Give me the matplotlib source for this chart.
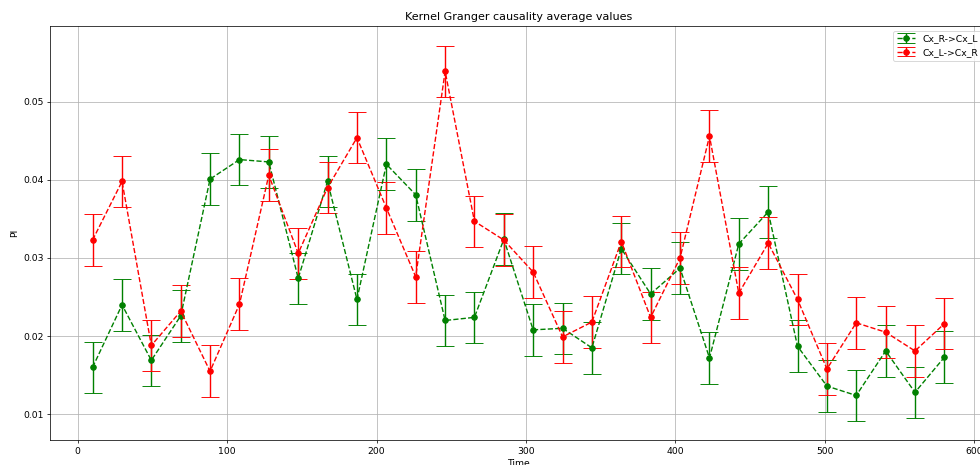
import matplotlib
matplotlib.use("Agg")
import matplotlib.pyplot as plt

# Time points of the sliding windows
time = [10.0, 29.7, 49.3, 69.0, 88.6, 108.3, 127.9, 147.6, 167.2, 186.9,
        206.6, 226.2, 245.9, 265.5, 285.2, 304.8, 324.5, 344.1, 363.8, 383.4,
        403.1, 422.8, 442.4, 462.1, 481.7, 501.4, 521.0, 540.7, 560.3, 580.0]

# Average kernel Granger causality, right -> left cortex
pi_r_to_l = [0.0160, 0.0240, 0.0169, 0.0226, 0.0401, 0.0426, 0.0423, 0.0274, 0.0398, 0.0247,
             0.0420, 0.0381, 0.0220, 0.0224, 0.0324, 0.0208, 0.0210, 0.0185, 0.0312, 0.0254,
             0.0287, 0.0172, 0.0318, 0.0359, 0.0187, 0.0136, 0.0124, 0.0181, 0.0128, 0.0173]
err_r_to_l = [0.0033, 0.0033, 0.0033, 0.0033, 0.0033, 0.0033, 0.0033, 0.0033, 0.0033, 0.0033,
              0.0033, 0.0033, 0.0033, 0.0033, 0.0033, 0.0033, 0.0033, 0.0033, 0.0033, 0.0033,
              0.0033, 0.0033, 0.0033, 0.0033, 0.0033, 0.0033, 0.0033, 0.0033, 0.0033, 0.0033]

# Average kernel Granger causality, left -> right cortex
pi_l_to_r = [0.0323, 0.0398, 0.0188, 0.0232, 0.0155, 0.0241, 0.0406, 0.0306, 0.0390, 0.0454,
             0.0364, 0.0276, 0.0539, 0.0347, 0.0323, 0.0282, 0.0199, 0.0218, 0.0321, 0.0224,
             0.0300, 0.0456, 0.0255, 0.0319, 0.0247, 0.0158, 0.0217, 0.0205, 0.0181, 0.0216]
err_l_to_r = [0.0033, 0.0033, 0.0033, 0.0033, 0.0033, 0.0033, 0.0033, 0.0033, 0.0033, 0.0033,
              0.0033, 0.0033, 0.0033, 0.0033, 0.0033, 0.0033, 0.0033, 0.0033, 0.0033, 0.0033,
              0.0033, 0.0033, 0.0033, 0.0033, 0.0033, 0.0033, 0.0033, 0.0033, 0.0033, 0.0033]

labels = ["Cx_R->Cx_L", "Cx_L->Cx_R"]

DPI = 67
fig = plt.figure(figsize=(980 / DPI, 465 / DPI), dpi=DPI)
# the axes run slightly past the right edge of the canvas
ax = fig.add_axes([50 / 980, 25 / 465, 937 / 980, 414 / 465])

ax.errorbar(time, pi_r_to_l, yerr=err_r_to_l, fmt="o--", color="green",
            capsize=10, label=labels[0])
ax.errorbar(time, pi_l_to_r, yerr=err_l_to_r, fmt="o--", color="red",
            capsize=10, label=labels[1])

ax.set_xlim(-18.5, 608.5)
ax.set_ylim(0.0067, 0.0597)
ax.set_title("Kernel Granger causality average values")
ax.set_xlabel("Time")
ax.set_ylabel("PI")
ax.grid(True)
ax.legend(loc="upper right")

fig.savefig("out.png", dpi=DPI)
